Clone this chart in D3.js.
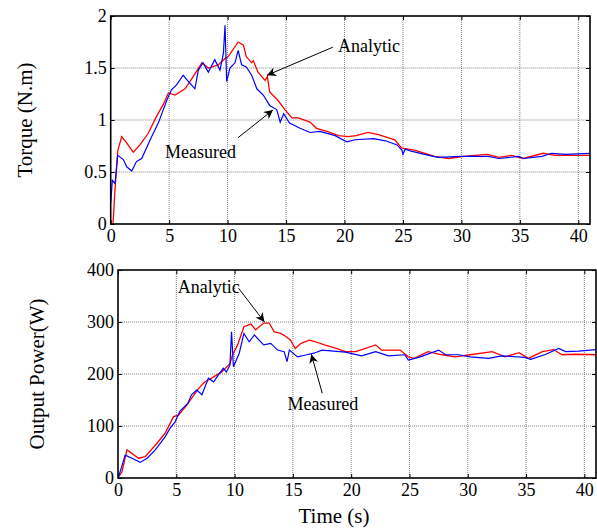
<!DOCTYPE html>
<html>
<head>
<meta charset="utf-8">
<script src="https://cdn.jsdelivr.net/npm/d3@7"></script>
<style>
  body { margin: 0; background: #fff; }
  text { font-family: "Liberation Serif", "Times New Roman", serif; }
</style>
</head>
<body>
<div id="chart"></div>
<script>
// values: [time (s), value]
const timeTicks = [0, 5, 10, 15, 20, 25, 30, 35, 40];
const torqueTicks = [0, 0.5, 1, 1.5, 2];
const powerTicks = [0, 100, 200, 300, 400];

const torqueAnalytic = [
  [0.15, 0], [0.2, 0], [0.35, 0.3], [0.6, 0.7], [0.94, 0.84], [1.3, 0.79], [1.93, 0.69],
  [2.5, 0.76], [3.2, 0.87], [3.9, 1.03], [4.5, 1.15], [4.93, 1.26], [5.5, 1.24], [6.36, 1.30],
  [7.07, 1.42], [7.8, 1.55], [8.35, 1.50], [9.2, 1.53], [9.78, 1.59], [10.06, 1.61], [10.9, 1.75],
  [11.35, 1.72], [11.6, 1.61], [12.06, 1.55], [12.2, 1.57], [12.6, 1.46], [13.2, 1.38], [13.4, 1.42],
  [13.6, 1.27], [14.3, 1.19], [14.9, 1.10], [15.5, 1.02], [16.05, 1.02], [17.05, 0.98], [17.6, 0.92],
  [18.5, 0.89], [19.5, 0.85], [20.3, 0.84], [21.0, 0.85], [22.0, 0.88], [22.9, 0.86], [24.3, 0.81],
  [24.9, 0.73], [26.0, 0.71], [27.7, 0.65], [28.9, 0.63], [30.2, 0.65], [32.2, 0.67], [33.2, 0.64],
  [34.3, 0.66], [35.3, 0.63], [37.0, 0.68], [38.0, 0.66], [41, 0.66]
];
const torqueMeasured = [
  [0, 0.2], [0.14, 0.42], [0.37, 0.39], [0.6, 0.66], [1.08, 0.62], [1.37, 0.55], [1.8, 0.51],
  [2.2, 0.60], [2.65, 0.63], [3.5, 0.84], [4.07, 0.97], [4.5, 1.10], [4.8, 1.19], [5.2, 1.29],
  [5.65, 1.34], [6.2, 1.43], [6.65, 1.37], [7.2, 1.30], [7.5, 1.48], [7.9, 1.55], [8.35, 1.46],
  [8.9, 1.58], [9.35, 1.48], [9.64, 1.64], [9.78, 1.91], [9.92, 1.37], [10.2, 1.50], [10.63, 1.55],
  [10.9, 1.67], [11.2, 1.53], [11.6, 1.51], [12.06, 1.43], [12.5, 1.30], [13.05, 1.24], [13.6, 1.14],
  [14.2, 1.10], [14.5, 0.98], [14.8, 1.06], [15.3, 0.97], [16.2, 0.92], [17.05, 0.88], [17.9, 0.89],
  [19.2, 0.85], [20.2, 0.79], [20.9, 0.81], [22.5, 0.82], [23.5, 0.80], [24.5, 0.76], [24.9, 0.71],
  [25.0, 0.67], [25.2, 0.72], [25.7, 0.70], [27.2, 0.66], [28.0, 0.64], [30.0, 0.65], [32.3, 0.65],
  [33.2, 0.63], [34.9, 0.65], [35.3, 0.63], [36.9, 0.65], [37.7, 0.68], [38.9, 0.67], [41, 0.68]
];

const powerAnalytic = [
  [0, 0], [0.06, 2.5], [0.34, 12], [0.77, 54], [1.77, 38], [2.33, 41], [3.2, 63], [4.04, 86],
  [4.76, 118], [5.19, 121], [5.9, 140], [6.9, 172], [7.46, 185], [8.03, 192], [8.9, 204], [9.6, 220],
  [9.83, 237], [10.26, 256], [10.8, 291], [11.4, 296], [11.8, 285], [12.5, 298], [12.97, 298],
  [13.4, 281], [13.96, 278], [14.4, 272], [14.8, 265], [15.2, 249], [15.7, 259], [16.4, 265],
  [16.95, 262], [17.7, 256], [18.8, 249], [19.5, 243], [20.4, 243], [22.1, 256], [22.6, 246],
  [24.2, 246], [24.9, 233], [25.4, 230], [26.6, 243], [27.8, 237], [28.9, 233], [30.2, 237],
  [32.1, 243], [33.2, 233], [34.4, 241], [35.2, 230], [36.4, 243], [37.35, 247], [38.1, 237],
  [39.2, 238], [41, 237]
];
const powerMeasured = [
  [0, 0], [0.1, 6], [0.62, 44], [1.2, 38], [1.9, 30], [2.5, 38], [3.2, 54], [4.04, 79], [4.47, 96],
  [4.9, 108], [5.3, 128], [6.0, 144], [6.3, 160], [6.75, 169], [7.2, 160], [7.75, 192], [8.2, 185],
  [8.6, 198], [9.03, 211], [9.3, 204], [9.6, 217], [9.74, 281], [9.9, 214], [10.4, 240], [10.8, 278],
  [11.25, 262], [11.7, 275], [12.1, 265], [12.5, 256], [13.1, 259], [13.7, 246], [14.25, 243],
  [14.5, 224], [14.7, 246], [15.4, 233], [16.2, 237], [16.8, 240], [17.5, 246], [18.5, 244],
  [19.5, 242], [20.9, 235], [22.1, 243], [23.2, 235], [24.6, 237], [24.9, 227], [25.8, 232],
  [27.5, 246], [28.1, 237], [29.2, 237], [30.2, 233], [31.8, 230], [32.9, 235], [34.9, 232],
  [35.4, 228], [36.6, 237], [37.8, 249], [38.4, 243], [39.5, 244], [41, 247]
];

// annotations: text start, arrow tail, arrow tip (data coords)
const torqueNotes = [
  { label: "Analytic", text: [19.44, 1.655], from: [19.0, 1.70], to: [13.37, 1.43] },
  { label: "Measured", text: [4.64, 0.635], from: [10.89, 0.83], to: [13.88, 1.096] }
];
const powerNotes = [
  { label: "Analytic", text: [5.13, 356], from: [10.34, 365], to: [12.56, 300] },
  { label: "Measured", text: [14.53, 131], from: [17.52, 163], to: [16.58, 238] }
];

const svg = d3.select("#chart").append("svg")
  .attr("width", 597)
  .attr("height", 529);

svg.append("defs").append("marker")
  .attr("id", "arrow")
  .attr("viewBox", "0 0 10 10")
  .attr("refX", 10).attr("refY", 5)
  .attr("markerWidth", 13).attr("markerHeight", 9)
  .attr("markerUnits", "userSpaceOnUse")
  .attr("orient", "auto")
  .append("path")
  .attr("d", "M0,0L10,5L0,10L3,5Z")
  .attr("fill", "#000");

function drawPanel(opt) {
  const { left, top, right, bottom } = opt;
  const x = d3.scaleLinear().domain([0, 41]).range([left, right]);
  const y = d3.scaleLinear().domain(opt.yDomain).range([bottom, top]);
  const g = svg.append("g");

  g.append("clipPath").attr("id", opt.id)
    .append("rect")
    .attr("x", left).attr("y", top)
    .attr("width", right - left).attr("height", bottom - top);

  // dotted grid
  g.append("g").selectAll("line")
    .data(timeTicks.filter(d => d > 0))
    .join("line")
    .attr("x1", d => x(d)).attr("x2", d => x(d))
    .attr("y1", top).attr("y2", bottom)
    .attr("stroke", "#808080").attr("stroke-dasharray", "1,1");
  g.append("g").selectAll("line")
    .data(opt.yTicks.slice(1, -1))
    .join("line")
    .attr("x1", left).attr("x2", right)
    .attr("y1", d => y(d)).attr("y2", d => y(d))
    .attr("stroke", "#808080").attr("stroke-dasharray", "1,1");

  const tickStyle = a => a.call(s => s.select(".domain").remove())
    .call(s => s.selectAll("text").attr("font-size", 18).attr("fill", "#000")
      .attr("font-family", '"Liberation Serif", "Times New Roman", serif'));

  g.append("g")
    .attr("transform", `translate(0,${bottom})`)
    .call(d3.axisBottom(x).tickValues(timeTicks).tickSize(-4).tickPadding(5).tickFormat(d => d))
    .call(tickStyle);
  g.append("g")
    .attr("transform", `translate(0,${top})`)
    .call(d3.axisTop(x).tickValues(timeTicks).tickSize(-4).tickFormat(""))
    .call(tickStyle);
  g.append("g")
    .attr("transform", `translate(${left},0)`)
    .call(d3.axisLeft(y).tickValues(opt.yTicks).tickSize(-4).tickPadding(4).tickFormat(d => d))
    .call(tickStyle);
  g.append("g")
    .attr("transform", `translate(${right},0)`)
    .call(d3.axisRight(y).tickValues(opt.yTicks).tickSize(-4).tickFormat(""))
    .call(tickStyle);

  const line = d3.line().x(d => x(d[0])).y(d => y(d[1]));
  g.append("path").datum(opt.analytic)
    .attr("clip-path", `url(#${opt.id})`)
    .attr("d", line).attr("fill", "none")
    .attr("stroke", "#ff0000").attr("stroke-width", 1.3);
  g.append("path").datum(opt.measured)
    .attr("clip-path", `url(#${opt.id})`)
    .attr("d", line).attr("fill", "none")
    .attr("stroke", "#0000ff").attr("stroke-width", 1.2);

  // frame
  g.append("rect")
    .attr("x", left).attr("y", top)
    .attr("width", right - left).attr("height", bottom - top)
    .attr("fill", "none").attr("stroke", "#000").attr("stroke-width", 1.6);

  opt.notes.forEach(n => {
    g.append("line")
      .attr("x1", x(n.from[0])).attr("y1", y(n.from[1]))
      .attr("x2", x(n.to[0])).attr("y2", y(n.to[1]))
      .attr("stroke", "#000").attr("stroke-width", 1)
      .attr("marker-end", "url(#arrow)");
    g.append("text")
      .attr("x", x(n.text[0])).attr("y", y(n.text[1]))
      .attr("font-size", 18)
      .text(n.label);
  });

  g.append("text")
    .attr("transform", `translate(${opt.labelX},${(top + bottom) / 2}) rotate(-90)`)
    .attr("text-anchor", "middle")
    .attr("dy", "0.35em")
    .attr("font-size", 21)
    .text(opt.yLabel);
}

drawPanel({
  id: "clipTorque", left: 110.7, top: 16, right: 590, bottom: 224,
  yDomain: [0, 2], yTicks: torqueTicks,
  analytic: torqueAnalytic, measured: torqueMeasured,
  notes: torqueNotes, yLabel: "Torque (N.m)", labelX: 25
});

drawPanel({
  id: "clipPower", left: 118, top: 270, right: 596, bottom: 478,
  yDomain: [0, 400], yTicks: powerTicks,
  analytic: powerAnalytic, measured: powerMeasured,
  notes: powerNotes, yLabel: "Output Power(W)", labelX: 37
});

svg.append("text")
  .attr("x", 334).attr("y", 523)
  .attr("text-anchor", "middle")
  .attr("font-size", 21)
  .text("Time (s)");
</script>
</body>
</html>
